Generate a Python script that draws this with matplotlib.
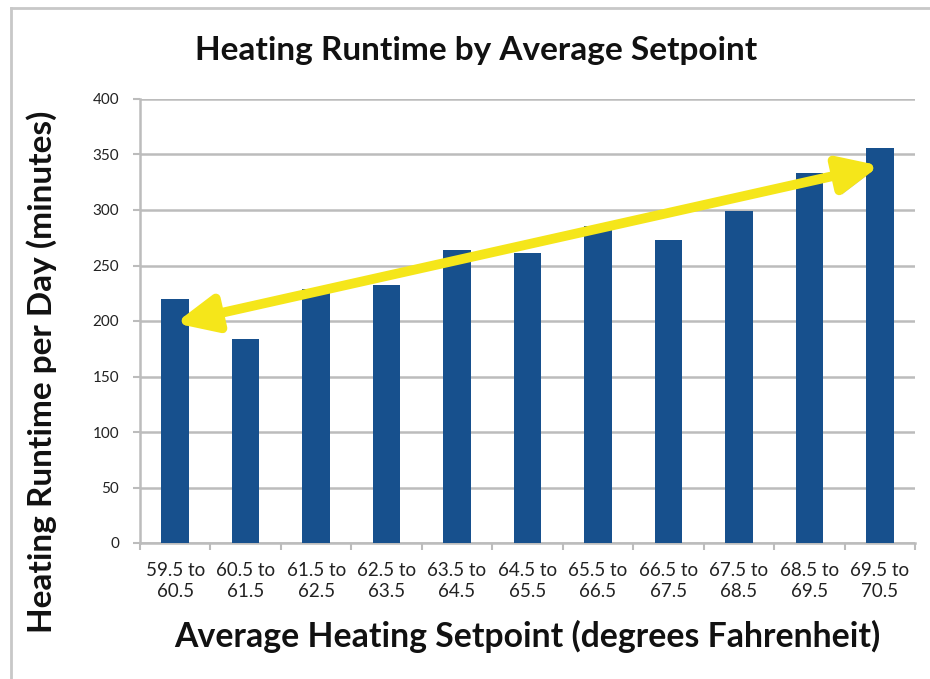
import matplotlib
matplotlib.use("Agg")
import matplotlib.pyplot as plt
from matplotlib.patches import FancyArrowPatch
import matplotlib.patheffects as pe

# chart data
setpoint_bins = ["59.5 to\n60.5", "60.5 to\n61.5", "61.5 to\n62.5", "62.5 to\n63.5",
                 "63.5 to\n64.5", "64.5 to\n65.5", "65.5 to\n66.5", "66.5 to\n67.5",
                 "67.5 to\n68.5", "68.5 to\n69.5", "69.5 to\n70.5"]
runtime_minutes = [220, 184, 229, 232, 264, 261, 286, 273, 299, 333, 356]
y_ticks = [0, 50, 100, 150, 200, 250, 300, 350, 400]

# trend arrow ends (category index, minutes)
arrow_start = (0, 198)
arrow_end = (10, 340)

plt.rcParams['font.family'] = ['Lato', 'DejaVu Sans']

fig = plt.figure(figsize=(9.3, 6.79), dpi=100)
ax = fig.add_axes([140 / 930, 136 / 679, 775 / 930, 444 / 679])

x = range(len(setpoint_bins))
ax.bar(x, runtime_minutes, width=0.39, color="#17508d", zorder=3)

ax.set_xlim(-0.5, len(setpoint_bins) - 0.5)
ax.set_ylim(0, 400)
ax.set_yticks(y_ticks)
ax.yaxis.grid(True, color="#bcbcbc", lw=1.8, zorder=0)
ax.set_axisbelow(True)

ax.set_xticks([i - 0.5 for i in range(len(setpoint_bins) + 1)], minor=False)
ax.set_xticklabels([])
ax.set_xticks(list(x), minor=True)
ax.set_xticklabels(setpoint_bins, minor=True, fontsize=13.5, color="#222222",
                   linespacing=1.25)
ax.tick_params(axis="x", which="major", length=5, width=1.5, color="#bcbcbc")
ax.tick_params(axis="x", which="minor", length=0, pad=14)
ax.tick_params(axis="y", length=5, width=1.5, color="#bcbcbc", labelsize=11,
               labelcolor="#222222", pad=10)

for s in ["top", "right"]:
    ax.spines[s].set_visible(False)
for s in ["left", "bottom"]:
    ax.spines[s].set_color("#bcbcbc")
    ax.spines[s].set_linewidth(1.8)

arrow = FancyArrowPatch(arrow_start, arrow_end,
                        arrowstyle="<|-|>,head_length=1.2,head_width=0.55",
                        mutation_scale=20, lw=7, color="#f5e61a",
                        shrinkA=0, shrinkB=0, zorder=5)
arrow.set_path_effects([pe.SimplePatchShadow(offset=(2, -3), alpha=0.35),
                        pe.Normal()])
ax.add_patch(arrow)

fig.text(0.512, 0.925, "Heating Runtime by Average Setpoint", ha="center",
         va="center", fontsize=24, fontweight="bold", color="#111111")
fig.text(0.567, 0.062, "Average Heating Setpoint (degrees Fahrenheit)", ha="center",
         va="center", fontsize=24.3, fontweight="bold", color="#111111")
fig.text(0.045, 0.452, "Heating Runtime per Day (minutes)", ha="center",
         va="center", rotation=90, fontsize=24, fontweight="bold", color="#111111")

# light frame around the chart
fig.add_artist(plt.Line2D([11 / 930, 11 / 930], [0, 671 / 679], color="#c8c8c8", lw=2))
fig.add_artist(plt.Line2D([11 / 930, 1], [671 / 679, 671 / 679], color="#c8c8c8", lw=2))

fig.savefig("out.png", dpi=100)
